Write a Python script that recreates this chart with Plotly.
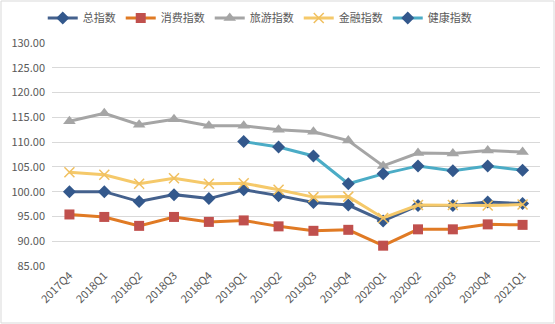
import plotly.graph_objects as go

quarters = ["2017Q4", "2018Q1", "2018Q2", "2018Q3", "2018Q4", "2019Q1", "2019Q2",
            "2019Q3", "2019Q4", "2020Q1", "2020Q2", "2020Q3", "2020Q4", "2021Q1"]
total_idx = [100.0, 100.0, 98.0, 99.4, 98.6, 100.4, 99.2, 97.8, 97.3, 94.1, 97.2, 97.2, 97.9, 97.6]
consume_idx = [95.4, 94.9, 93.1, 94.9, 93.9, 94.2, 93.0, 92.1, 92.3, 89.1, 92.4, 92.4, 93.4, 93.3]
travel_idx = [114.2, 115.8, 113.5, 114.6, 113.3, 113.3, 112.5, 112.1, 110.3, 105.2, 107.8, 107.7, 108.3, 108.0]
finance_idx = [103.9, 103.4, 101.6, 102.7, 101.6, 101.7, 100.4, 98.9, 99.0, 94.7, 97.3, 97.3, 97.2, 97.4]
health_idx = [None, None, None, None, None, 110.1, 109.0, 107.2, 101.6, 103.6, 105.2, 104.2, 105.2, 104.3]
yticks = [85, 90, 95, 100, 105, 110, 115, 120, 125, 130]

font = "Noto Sans CJK SC"
fig = go.Figure()

series = [
    ("总指数", total_idx, "#44618D", dict(symbol="diamond", color="#33588C", size=10)),
    ("消费指数", consume_idx, "#E07A24", dict(symbol="square", color="#C0504D", size=10)),
    ("旅游指数", travel_idx, "#A5A5A5", dict(symbol="triangle-up", color="#A5A5A5", size=11)),
    ("金融指数", finance_idx, "#F5C96A", dict(symbol="x-thin", color="#F5C96A", size=10,
                                            line=dict(color="#F0C060", width=1.5))),
    ("健康指数", health_idx, "#4BACC6", dict(symbol="diamond", color="#33588C", size=10)),
]
for name, vals, lc, mk in series:
    fig.add_trace(go.Scatter(x=quarters, y=vals, name=name, mode="lines+markers",
                             line=dict(color=lc, width=3), marker=mk,
                             connectgaps=False))

fig.update_layout(
    width=555, height=324,
    margin=dict(l=52, r=15, t=43, b=58, autoexpand=False),
    paper_bgcolor="white", plot_bgcolor="white",
    font=dict(family=font, size=11, color="#595959"),
    legend=dict(orientation="h", xref="container", yref="container",
                x=0.468, xanchor="center", y=1 - 18 / 324, yanchor="middle",
                font=dict(size=11, color="#595959"), itemwidth=30,
                tracegroupgap=0, bgcolor="rgba(0,0,0,0)"),
    shapes=[dict(type="rect", xref="paper", yref="paper",
                 x0=-51/488, x1=1+14/488, y0=-57/223, y1=1+42/223,
                 line=dict(color="#D9D9D9", width=1))],
)
fig.update_xaxes(type="category", range=[-0.5, 13.5], tickangle=-45,
                 showgrid=False, showline=False, ticks="", automargin=False,
                 tickfont=dict(size=11, color="#595959"))
fig.update_yaxes(range=[85, 130], tickvals=yticks,
                 ticktext=[f"{v:.2f}" for v in yticks],
                 showgrid=True, gridcolor="#D9D9D9", gridwidth=1, automargin=False,
                 zeroline=False, showline=False, ticks="", ticklabelstandoff=6,
                 tickfont=dict(size=11, color="#595959"))

fig.write_html("out.html")
